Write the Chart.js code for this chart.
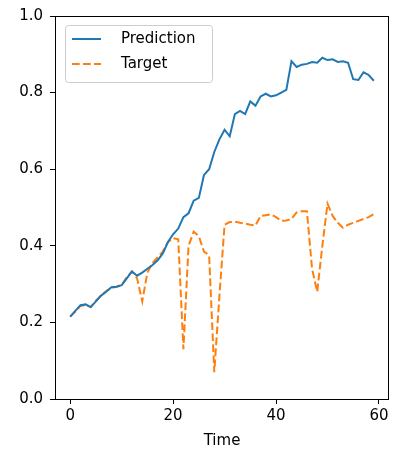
<!DOCTYPE HTML>
<html>
<head>
  <script src="https://cdn.jsdelivr.net/npm/chart.js"></script>
  <style>
    body { margin: 0; background: #fff; }
  </style>
</head>
<body>
  <canvas id="timeChart" width="393" height="453"></canvas>

  <script>
    // Model output and ground truth over 60 time steps
    var prediction = [
      0.215, 0.230, 0.245, 0.247, 0.240, 0.255, 0.270, 0.280, 0.292, 0.293,
      0.297, 0.315, 0.333, 0.322, 0.330, 0.340, 0.350, 0.362, 0.380, 0.410,
      0.430, 0.445, 0.475, 0.485, 0.518, 0.525, 0.585, 0.600, 0.645, 0.678,
      0.703, 0.686, 0.744, 0.752, 0.744, 0.777, 0.766, 0.790, 0.797, 0.790,
      0.793, 0.800, 0.807, 0.882, 0.867, 0.873, 0.875, 0.880, 0.878, 0.891,
      0.885, 0.887, 0.880, 0.882, 0.878, 0.835, 0.833, 0.853, 0.846, 0.831
    ];
    var target = [
      0.215, 0.228, 0.243, 0.245, 0.240, 0.257, 0.270, 0.282, 0.290, 0.293,
      0.298, 0.318, 0.333, 0.315, 0.255, 0.330, 0.355, 0.370, 0.385, 0.410,
      0.420, 0.417, 0.130, 0.400, 0.437, 0.425, 0.385, 0.375, 0.070, 0.270,
      0.455, 0.462, 0.463, 0.460, 0.458, 0.455, 0.453, 0.478, 0.480, 0.482,
      0.475, 0.465, 0.466, 0.470, 0.487, 0.490, 0.490, 0.340, 0.280, 0.400,
      0.510, 0.478, 0.460, 0.447, 0.455, 0.460, 0.465, 0.470, 0.475, 0.483
    ];
    var seriesNames = ['Prediction', 'Target'];
    var xTicks = [0, 20, 40, 60];

    function toPoints(values) {
      return values.map(function (v, i) { return { x: i, y: v }; });
    }

    Chart.defaults.font.family = 'DejaVu Sans';
    Chart.defaults.font.size = 15;
    Chart.defaults.color = '#000';

    // Box around the plot plus a legend tucked in the upper left corner
    var frameAndLegend = {
      id: 'frameAndLegend',
      afterDraw: function (chart) {
        var ctx = chart.ctx;
        var a = chart.chartArea;
        ctx.save();
        ctx.strokeStyle = '#000';
        ctx.lineWidth = 1;
        ctx.strokeRect(a.left + 0.5, a.top + 0.5, a.right - a.left - 1, a.bottom - a.top);

        var bx = a.left + 10, by = a.top + 9, bw = 147, bh = 57;
        ctx.beginPath();
        ctx.roundRect(bx + 0.5, by + 0.5, bw, bh, 3);
        ctx.fillStyle = 'rgba(255,255,255,0.8)';
        ctx.fill();
        ctx.strokeStyle = '#cccccc';
        ctx.stroke();

        chart.data.datasets.forEach(function (ds, i) {
          var y = by + 14 + i * 25;
          ctx.beginPath();
          ctx.setLineDash(ds.borderDash || []);
          ctx.strokeStyle = ds.borderColor;
          ctx.lineWidth = ds.borderWidth;
          ctx.moveTo(bx + 7, y);
          ctx.lineTo(bx + 36, y);
          ctx.stroke();
          ctx.setLineDash([]);
          ctx.fillStyle = '#000';
          ctx.font = '15px "DejaVu Sans"';
          ctx.textBaseline = 'middle';
          ctx.fillText(ds.label, bx + 56, y);
        });
        ctx.restore();
      }
    };

    var myContext = document.getElementById('timeChart').getContext('2d');
    var myChart = new Chart(myContext, {
      type: 'line',
      data: {
        datasets: [{
          label: seriesNames[0],
          data: toPoints(prediction),
          borderColor: '#1f77b4',
          borderWidth: 2,
          pointRadius: 0,
          tension: 0,
        }, {
          label: seriesNames[1],
          data: toPoints(target),
          borderColor: '#ff7f0e',
          borderWidth: 2,
          borderDash: [7.7, 3.3],
          pointRadius: 0,
          tension: 0,
        }]
      },
      options: {
        responsive: false,
        animation: false,
        layout: { padding: { left: 0, right: 4, top: 14, bottom: 0 } },
        plugins: {
          legend: { display: false },
          tooltip: { enabled: false },
        },
        scales: {
          x: {
            type: 'linear',
            min: -2.95,
            max: 61.95,
            afterBuildTicks: function (scale) {
              scale.ticks = xTicks.map(function (v) { return { value: v }; });
            },
            afterFit: function (scale) { scale.height = 54; },
            ticks: { padding: 3, maxRotation: 0 },
            grid: { drawOnChartArea: false, tickLength: 5, tickColor: '#000' },
            border: { display: false },
            title: { display: true, text: 'Time', padding: { top: 0, bottom: 3 } },
          },
          y: {
            min: 0,
            max: 1,
            afterFit: function (scale) { scale.width = 55; },
            ticks: {
              stepSize: 0.2,
              padding: 7,
              callback: function (v) { return v.toFixed(1); }
            },
            grid: { drawOnChartArea: false, tickLength: 5, tickColor: '#000' },
            border: { display: false },
          }
        }
      },
      plugins: [frameAndLegend]
    });
  </script>
</body>
</html>
